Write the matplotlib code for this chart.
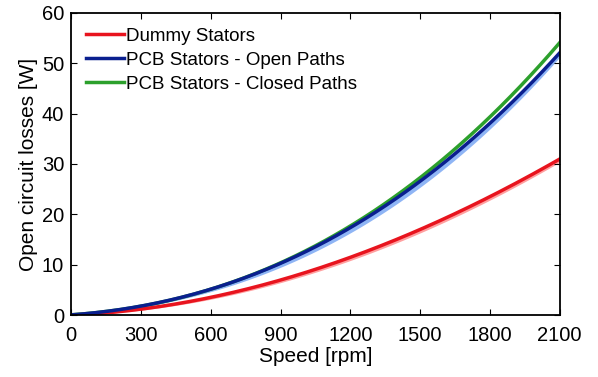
import numpy as np
import matplotlib.pyplot as plt

plt.rcParams['font.family'] = ['Liberation Sans', 'DejaVu Sans']

speed = [0, 300, 600, 900, 1200, 1500, 1800, 2100]
dummy = [0, 1.2, 3.5, 7.0, 11.5, 17.0, 23.5, 31.0]
dummy_low = [0, 1.0, 3.1, 6.5, 10.9, 16.3, 22.8, 30.4]
pcb_open = [0, 1.9, 5.2, 10.2, 17.3, 26.6, 38.2, 52.0]
pcb_open_low = [0, 1.6, 4.7, 9.5, 16.3, 25.4, 37.0, 51.2]
pcb_closed = [0, 1.9, 5.2, 10.3, 17.6, 27.3, 39.5, 54.0]

xs = np.linspace(0, 2100, 200)
def smooth(v):
    c = np.polyfit(speed, v, 3)
    return np.polyval(c, xs)

fig, ax = plt.subplots(figsize=(5.98, 3.77), dpi=100)
fig.subplots_adjust(left=0.119, right=0.936, top=0.966, bottom=0.164)

ax.fill_between(xs, smooth(dummy_low), smooth(dummy), color='#ffa0a0', lw=0)
ax.fill_between(xs, smooth(pcb_open_low), smooth(pcb_open), color='#8fb5f5', lw=0)
ax.plot(xs, smooth(pcb_closed), color='#2ca02c', lw=2.5, label='PCB Stators - Closed Paths')
ax.plot(xs, smooth(dummy), color='#e8141e', lw=2.5, label='Dummy Stators')
ax.plot(xs, smooth(pcb_open), color='#0a1f8f', lw=2.5, label='PCB Stators - Open Paths')

h, l = ax.get_legend_handles_labels()
order = [1, 2, 0]
ax.legend([h[i] for i in order], [l[i] for i in order], loc='upper left',
          frameon=False, fontsize=13.5, handlelength=2.0, handletextpad=0.1,
          labelspacing=0.36, borderaxespad=0.5, borderpad=0.3)

ax.set_xlim(0, 2100)
ax.set_ylim(0, 60)
ax.set_xticks(range(0, 2101, 300))
ax.set_yticks(range(0, 61, 10))
ax.tick_params(direction='in', labelsize=14.5, top=True, right=True, length=4)
ax.tick_params(axis='x', pad=8)
ax.tick_params(axis='y', pad=5)
for s in ax.spines.values():
    s.set_linewidth(1.3)
ax.set_xlabel('Speed [rpm]', fontsize=15, labelpad=1)
ax.set_ylabel('Open circuit losses [W]', fontsize=15, labelpad=3)

plt.savefig('out.png', dpi=100)
